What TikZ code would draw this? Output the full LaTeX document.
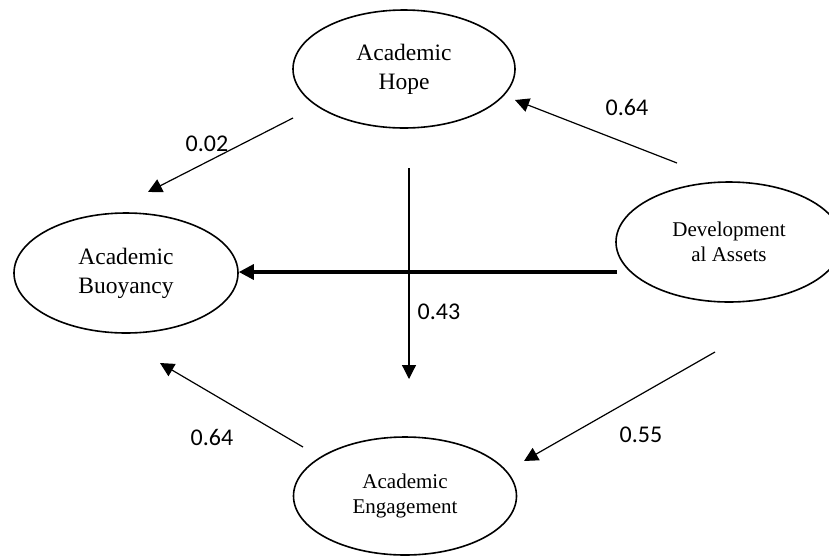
\documentclass[tikz,border=0pt]{standalone}
\usepackage{fontspec}
\setmainfont{Liberation Serif}
\newfontfamily\lblfont{Carlito}
\usetikzlibrary{shapes.geometric,arrows.meta}
\begin{document}
\begin{tikzpicture}[x=1pt,y=-1pt,
  latent/.style={draw, ellipse, line width=1.6pt, inner sep=0pt, align=center},
  big/.style={font=\fontsize{23.5}{29}\selectfont},
  small/.style={font=\fontsize{21}{25}\selectfont},
  pathline/.style={-{Triangle[length=14pt,width=14pt]}, line width=1.2pt},
  thickline/.style={-{Triangle[length=15pt,width=15pt]}, line width=3.3pt},
  coef/.style={font=\lblfont\fontsize{24}{28}\selectfont, inner sep=0pt}]
\useasboundingbox (0,0) rectangle (829,555);
\node[latent, big, minimum width=222pt, minimum height=118pt] (hope) at (404,69) {Academic\\Hope};
\node[latent, big, minimum width=224pt, minimum height=120pt] (buoy) at (126,273) {Academic\\Buoyancy};
\node[latent, small, minimum width=226pt, minimum height=120pt] (dev) at (729,242) {Development\\al Assets};
\node[latent, small, minimum width=223pt, minimum height=118pt] (eng) at (405,496) {Academic\\Engagement};
% free ends
\coordinate (a1) at (293,118);
\coordinate (a2) at (148,192);
\coordinate (b1) at (409,168);
\coordinate (b2) at (409,379);
\coordinate (c1) at (677,163);
\coordinate (c2) at (515,100);
\coordinate (d1) at (617,272);
\coordinate (e1) at (715,352);
\coordinate (e2) at (524,461);
\coordinate (f1) at (303,447);
\coordinate (f2) at (160,363);
\draw[pathline] (a1) -- (a2);
\draw[pathline] (b1) -- (b2);
\draw[pathline] (c1) -- (c2);
\draw[thickline] (d1) -- (d1 -| buoy.east);
\draw[pathline] (e1) -- (e2);
\draw[pathline] (f1) -- (f2);
\node[coef] (l1) at (207,144) {0.02};
\node[coef] (l2) at (439,312) {0.43};
\node[coef] (l3) at (627,107) {0.64};
\node[coef] (l4) at (641,435) {0.55};
\node[coef] (l5) at (212,437) {0.64};
\end{tikzpicture}
\end{document}
